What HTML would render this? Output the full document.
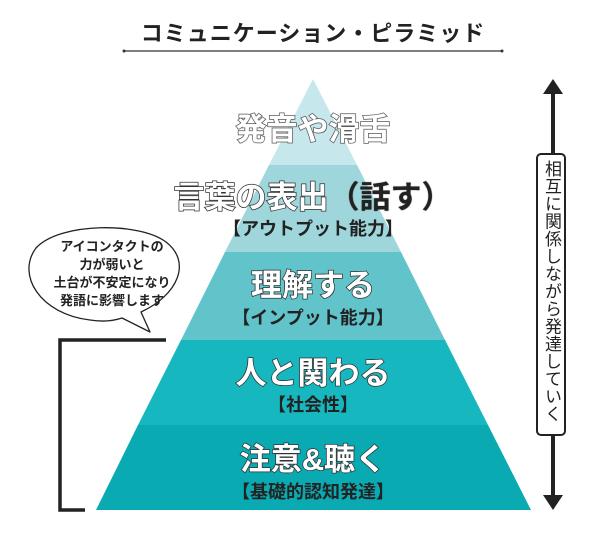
<!DOCTYPE html>
<html><head><meta charset="utf-8"><style>
body{margin:0;width:600px;height:540px;background:#fff;overflow:hidden;position:relative;font-family:"Liberation Sans","Noto Sans CJK JP",sans-serif}
.t{position:absolute;left:0;width:626px;text-align:center;font-weight:bold;white-space:nowrap}
.big{font-size:31px;color:#fff;-webkit-text-stroke:1.5px #333;paint-order:stroke fill;text-shadow:0 0 1px #333}
.sub{font-size:18px;color:#222}
</style></head><body>
<svg width="600" height="540" style="position:absolute;left:0;top:0">
<polygon points="313,79 357,165 269,165" fill="#c6e7eb"/>
<polygon points="269,165 357,165 401,252 225,252" fill="#9ed6dc"/>
<polygon points="225,252 401,252 445,340 181,340" fill="#62c4cb"/>
<polygon points="181,340 445,340 488,425 138,425" fill="#17b7c0"/>
<polygon points="138,425 488,425 531,510 96,510" fill="#0aaab3"/>
<line x1="124" y1="51" x2="502" y2="51" stroke="#333" stroke-width="1.2"/>
<circle cx="124" cy="51" r="1.5" fill="#333"/><circle cx="502" cy="51" r="1.5" fill="#333"/>
<path d="M166,340 H60 V510 H85" fill="none" stroke="#222" stroke-width="3.5"/>
<line x1="553" y1="92" x2="553" y2="496" stroke="#222" stroke-width="4"/>
<polygon points="553,79 543,94 563,94" fill="#222"/>
<polygon points="553,510 543,495 563,495" fill="#222"/>
<rect x="537" y="154" width="28" height="281" rx="4" fill="#fff" stroke="#222" stroke-width="2"/>
<path d="M122,318 L150,332 L141,312 C178,295 192,262 166,242 C140,222 60,222 36,248 C16,275 40,314 90,320 C102,322 113,321 122,318 Z" fill="#fff" stroke="#222" stroke-width="1.3" stroke-linejoin="round"/>
</svg>
<div class="t" style="top:16px;font-size:22px;color:#222;letter-spacing:1px">コミュニケーション・ピラミッド</div>
<div class="t big" style="top:104px;-webkit-text-stroke-color:#666">発音や滑舌</div>
<div class="t big" style="top:172px">言葉の表出<span style="color:#222;-webkit-text-stroke:0">（話す）</span></div>
<div class="t sub" style="top:215px">【アウトプット能力】</div>
<div class="t big" style="top:260px">理解する</div>
<div class="t sub" style="top:304px">【インプット能力】</div>
<div class="t big" style="top:348px">人と関わる</div>
<div class="t sub" style="top:391px">【社会性】</div>
<div class="t big" style="top:434px">注意&amp;聴く</div>
<div class="t sub" style="top:478px">【基礎的認知発達】</div>
<div style="position:absolute;left:30px;top:238px;width:164px;text-align:center;font-size:13px;line-height:18px;font-weight:bold;color:#222">アイコンタクトの<br>力が弱いと<br>土台が不安定になり<br>発語に影響します</div>
<div style="position:absolute;left:541px;top:160px;width:20px;height:272px;writing-mode:vertical-rl;font-size:17px;line-height:20px;color:#222;letter-spacing:0.5px">相互に関係しながら発達していく</div>
</body></html>
